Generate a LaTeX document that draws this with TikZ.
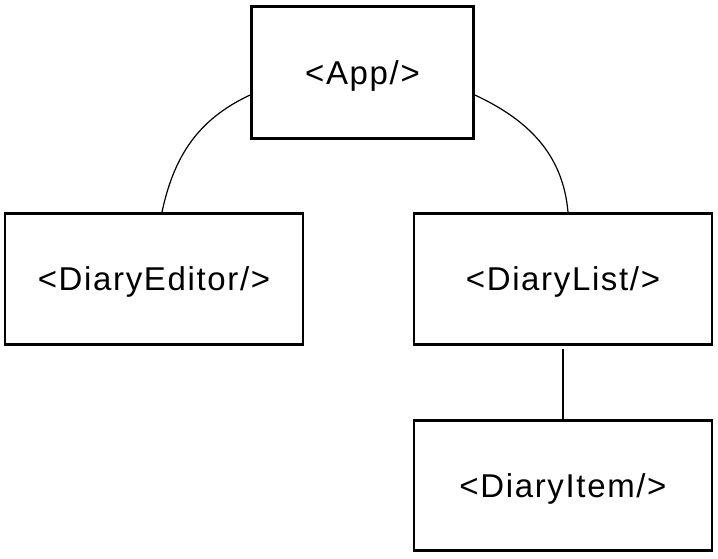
\documentclass[tikz,border=0pt]{standalone}
\usepackage{fontspec}
\setmainfont{Liberation Sans}[LetterSpace=5]
\tikzset{comp/.style = {shape=rectangle,draw,line width=2.8pt,minimum width=298pt,minimum height=131pt}}
\tikzset{link/.style = {line width=1.2pt}}

\begin{document}
\begin{tikzpicture}[x=1pt,y=-1pt,font=\fontsize{33}{39}\selectfont,text height=23pt,text depth=0pt]
        \useasboundingbox (0,0) rectangle (718,558);
        \node[comp,minimum width=222pt,minimum height=132pt] (app) at (362.5, 72.5) {<App/>};
        \node[comp] (editor) at (154, 279) {<DiaryEditor/>};
        \node[comp] (list) at (563, 279) {<DiaryList/>};
        \node[comp,minimum height=130pt] (item) at (563, 485.5) {<DiaryItem/>};

        \draw[link] ([yshift=-22.5pt]app.west) to[out=205,in=78] ([xshift=8pt]editor.north);
        \draw[link] ([yshift=-22.5pt]app.east) to[out=-25,in=95] ([xshift=5pt]list.north);
        \draw[link,shorten <=3pt] (list.south) -- (item.north);
      \end{tikzpicture}
\end{document}
